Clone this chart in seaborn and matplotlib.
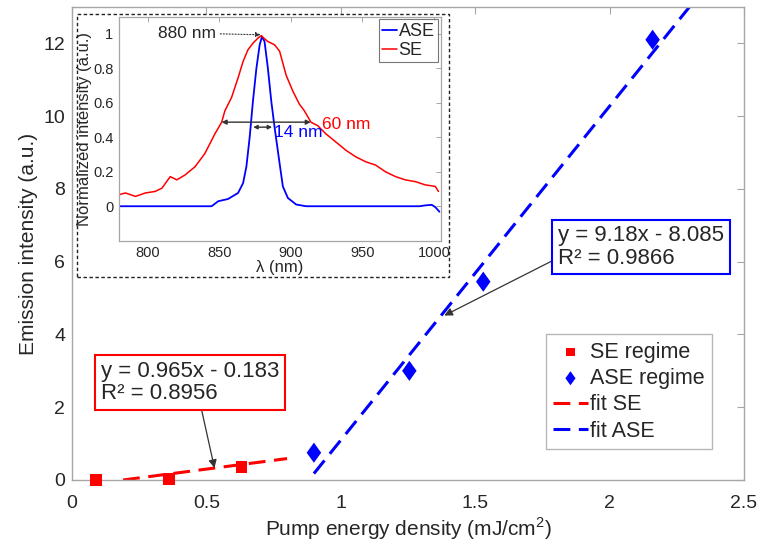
import matplotlib
matplotlib.use("Agg")
import matplotlib.pyplot as plt
import seaborn as sns
import pandas as pd
from matplotlib.patches import Rectangle

# ---------------- data ----------------
se_energy = [0.09, 0.36, 0.63]
se_intensity = [0.0, 0.02, 0.36]
ase_energy = [0.90, 1.255, 1.53, 2.16]
ase_intensity = [0.75, 3.0, 5.45, 12.1]

fit_se_slope, fit_se_intercept = 0.965, -0.183
fit_ase_slope, fit_ase_intercept = 9.18, -8.085
fit_se_x = [0.19, 0.80]
fit_ase_x = [0.90, 2.30]

x_ticks = [0, 0.5, 1, 1.5, 2, 2.5]
x_tick_labels = ["0", "0.5", "1", "1.5", "2", "2.5"]
y_ticks = [0, 2, 4, 6, 8, 10, 12]
y_tick_labels = ["0", "2", "4", "6", "8", "10", "12"]

se_wl = [780, 784.5, 791.5, 798.4, 805.3, 810, 815.8, 820.4, 826.2, 833.1, 840, 847,
         851.7, 854, 858.6, 863.2, 866.7, 870.1, 873.6, 877, 879.4, 882, 884, 888.7,
         892.2, 894.5, 896.8, 901.4, 906, 909.5, 914.2, 918.8, 924.6, 931.5, 938.5,
         945.4, 952.4, 959.3, 966.2, 973.2, 980.1, 987, 994, 1001, 1003.2]
se_norm = [0.067, 0.077, 0.057, 0.077, 0.086, 0.105, 0.172, 0.153, 0.182, 0.229, 0.306, 0.42,
           0.487, 0.554, 0.63, 0.745, 0.84, 0.908, 0.946, 0.975, 0.99, 0.97, 0.956, 0.937,
           0.90, 0.83, 0.76, 0.669, 0.593, 0.554, 0.487, 0.468, 0.42, 0.373, 0.325,
           0.287, 0.258, 0.239, 0.2, 0.172, 0.153, 0.143, 0.124, 0.115, 0.086]
ase_wl = [780, 844.7, 849.3, 856.2, 863.2, 866.7, 869, 871.3, 873.6, 876, 878.3, 879.9,
          881.7, 884, 886.4, 888.7, 892.2, 894.5, 898, 903.8, 910.7, 990, 994, 998.6,
          1001, 1003.9]
ase_norm = [0.0, 0.0, 0.029, 0.042, 0.077, 0.134, 0.229, 0.40, 0.61, 0.80, 0.937, 0.985,
            0.956, 0.803, 0.61, 0.459, 0.25, 0.115, 0.048, 0.01, 0.0, 0.0, 0.005, 0.008,
            -0.005, -0.032]
inset_x_ticks = [800, 850, 900, 950, 1000]
inset_y_ticks = [0, 0.2, 0.4, 0.6, 0.8, 1]
inset_y_tick_labels = ["0", "0.2", "0.4", "0.6", "0.8", "1"]

# ---------------- style ----------------
sns.set_theme(style="white")
plt.rcParams["font.family"] = ["Liberation Sans", "DejaVu Sans"]
plt.rcParams["mathtext.fontset"] = "custom"
plt.rcParams["mathtext.rm"] = "Liberation Sans"
SPINE = "#a6a6a6"
TXT = "#262626"
DIAMOND = [(0, 1), (0.72, 0), (0, -1), (-0.72, 0), (0, 1)]

W, H = 759, 550
fig = plt.figure(figsize=(W / 100, H / 100), dpi=100)

def fx(px):
    return px / W

def fy(py):
    return 1 - py / H

ax = fig.add_axes([fx(72), fy(480), fx(744) - fx(72), fy(7) - fy(480)])

se_df = pd.DataFrame({"x": se_energy, "y": se_intensity})
ase_df = pd.DataFrame({"x": ase_energy, "y": ase_intensity})
fit_se_df = pd.DataFrame({"x": fit_se_x,
                          "y": [fit_se_slope * v + fit_se_intercept for v in fit_se_x]})
fit_ase_df = pd.DataFrame({"x": fit_ase_x,
                           "y": [fit_ase_slope * v + fit_ase_intercept for v in fit_ase_x]})

sns.scatterplot(data=se_df, x="x", y="y", ax=ax, color="#ff0000", marker="s", s=70,
                edgecolor="none", label="SE regime", zorder=4, legend=False, clip_on=False)
sns.scatterplot(data=ase_df, x="x", y="y", ax=ax, color="#0000ff", marker=DIAMOND, s=210,
                edgecolor="none", label="ASE regime", zorder=4, legend=False, clip_on=False)
sns.lineplot(data=fit_se_df, x="x", y="y", ax=ax, color="#ff0000", lw=2.2,
             dashes=False, label="fit SE", legend=False)
sns.lineplot(data=fit_ase_df, x="x", y="y", ax=ax, color="#0000ff", lw=2.2,
             dashes=False, label="fit ASE", legend=False)
for ln in ax.get_lines():
    ln.set_dashes((5.5, 2.8))

ax.set_xlim(0, 2.5)
ax.set_ylim(0, 13)
ax.set_xticks(x_ticks)
ax.set_xticklabels(x_tick_labels)
ax.set_yticks(y_ticks)
ax.set_yticklabels(y_tick_labels)
ax.tick_params(direction="in", length=5, width=0.8, color=SPINE, labelsize=14,
               labelcolor=TXT, top=True, right=True)
ax.tick_params(axis="x", pad=11)
ax.tick_params(axis="y", pad=5)
for sp in ax.spines.values():
    sp.set_color(SPINE)
    sp.set_linewidth(1.0)
ax.set_xlabel("Pump energy density (mJ/cm$^{2}$)", fontsize=15, color=TXT, labelpad=2)
ax.set_ylabel("Emission intensity (a.u.)", fontsize=15, color=TXT, labelpad=4)

handles, labels = ax.get_legend_handles_labels()
order = ["SE regime", "ASE regime", "fit SE", "fit ASE"]
hmap = dict(zip(labels, handles))
leg = fig.legend([hmap[k] for k in order], order, loc="upper right",
                 bbox_to_anchor=(fx(712), fy(334)), bbox_transform=fig.transFigure,
                 fontsize=15.5, frameon=True, fancybox=False, borderaxespad=0,
                 handlelength=1.6, handletextpad=0.1, labelspacing=0.25,
                 borderpad=0.35, scatterpoints=1, markerscale=0.7)
leg.get_frame().set_edgecolor(SPINE)
leg.get_frame().set_linewidth(1.0)
for t in leg.get_texts():
    t.set_color(TXT)

# fit equation boxes
ax.annotate("y = 0.965x - 0.183\nR² = 0.8956",
            xy=(0.53, 0.33), xycoords="data",
            xytext=(fx(101), fy(382.5)), textcoords="figure fraction",
            ha="left", va="center", fontsize=16, color=TXT, linespacing=1.1,
            bbox=dict(boxstyle="square,pad=0.25", fc="white", ec="#ff0000", lw=1.5),
            arrowprops=dict(arrowstyle="-|>", color="#333333", lw=0.9,
                            mutation_scale=12, relpos=(0.557, 0), shrinkA=0, shrinkB=0),
            zorder=6)
ax.annotate("y = 9.18x - 8.085\nR² = 0.9866",
            xy=(1.385, 4.52), xycoords="data",
            xytext=(fx(558), fy(247)), textcoords="figure fraction",
            ha="left", va="center", fontsize=16, color=TXT, linespacing=1.1,
            bbox=dict(boxstyle="square,pad=0.25", fc="white", ec="#0000ff", lw=1.5),
            arrowprops=dict(arrowstyle="-|>", color="#333333", lw=0.9,
                            mutation_scale=12, relpos=(0, 0.25), shrinkA=0, shrinkB=0),
            zorder=6)

# ---------------- inset ----------------
fig.patches.append(Rectangle((fx(77), fy(277)), fx(449) - fx(77), fy(14) - fy(277),
                             transform=fig.transFigure, fill=True, fc="white",
                             ec="#222222", lw=1.0, ls=(0, (2.5, 1.8)), zorder=5))
ins = fig.add_axes([fx(119), fy(240.7), fx(441) - fx(119), fy(16.7) - fy(240.7)], zorder=7)
ase_spec = pd.DataFrame({"wl": ase_wl, "v": ase_norm})
se_spec = pd.DataFrame({"wl": se_wl, "v": se_norm})
sns.lineplot(data=ase_spec, x="wl", y="v", ax=ins, color="#0000ff", lw=1.3,
             sort=False, estimator=None, label="ASE", legend=False)
sns.lineplot(data=se_spec, x="wl", y="v", ax=ins, color="#ff0000", lw=1.1,
             sort=False, estimator=None, label="SE", legend=False)
ins.set_xlim(780, 1005)
ins.set_ylim(-0.2, 1.1)
ins.set_xticks(inset_x_ticks)
ins.set_yticks(inset_y_ticks)
ins.set_yticklabels(inset_y_tick_labels)
ins.tick_params(direction="in", length=3.5, width=0.7, color=SPINE, labelsize=10.5,
                labelcolor=TXT, top=True, right=True, pad=4)
for sp in ins.spines.values():
    sp.set_color(SPINE)
    sp.set_linewidth(0.9)
ins.set_xlabel("λ (nm)", fontsize=12, color=TXT, labelpad=0)
ins.set_ylabel("Normalized intensity (a.u.)", fontsize=12, color=TXT, labelpad=1)
il = ins.legend(loc="upper right", fontsize=13, frameon=True, fancybox=False,
                borderaxespad=0.15, handlelength=0.8, handletextpad=0.1,
                labelspacing=0.1, borderpad=0.2)
il.get_frame().set_edgecolor("#555555")
il.get_frame().set_linewidth(0.8)

ins.annotate("880 nm", xy=(879, 0.995), xytext=(807, 1.005), ha="left", va="center",
             fontsize=12.5, color=TXT,
             arrowprops=dict(arrowstyle="-|>", color="#333333", lw=0.8, ls=":",
                             mutation_scale=7, shrinkA=1, shrinkB=0))
ins.annotate("", xy=(851.7, 0.488), xytext=(914, 0.488),
             arrowprops=dict(arrowstyle="<|-|>", color="#333333", lw=1.0,
                             mutation_scale=7, shrinkA=0, shrinkB=0))
ins.annotate("", xy=(873.8, 0.459), xytext=(887, 0.459),
             arrowprops=dict(arrowstyle="<|-|>", color="#333333", lw=1.0,
                             mutation_scale=6, shrinkA=0, shrinkB=0))
ins.text(922, 0.474, "60 nm", color="#ff0000", fontsize=12.5, ha="left", va="center")
ins.text(888, 0.43, "14 nm", color="#0000ff", fontsize=12.5, ha="left", va="center")

fig.savefig("out.png", dpi=100)
